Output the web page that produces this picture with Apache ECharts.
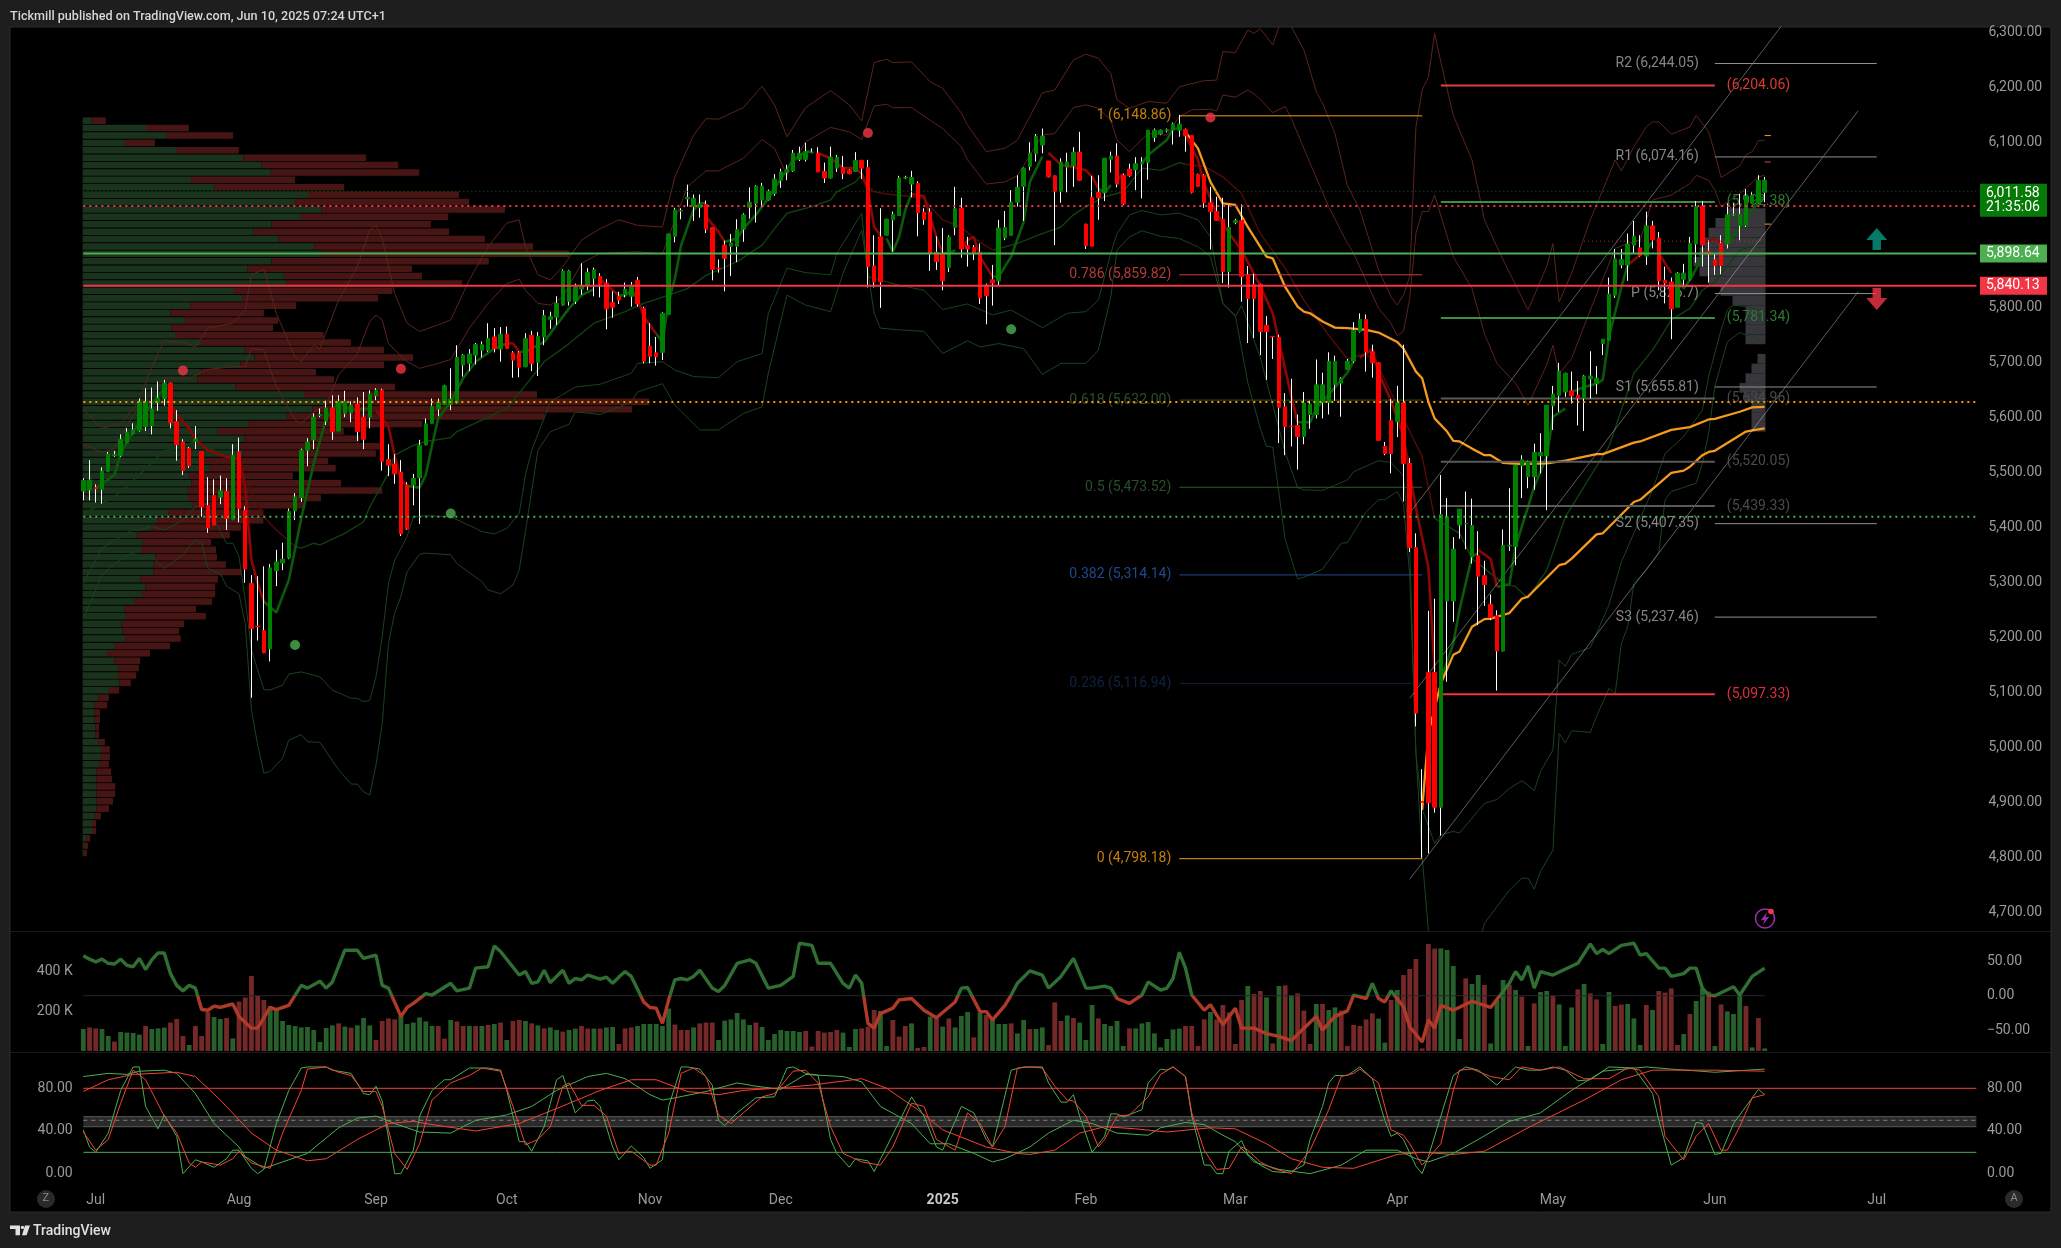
<!DOCTYPE html>
<html><head><meta charset="utf-8"><style>html,body{margin:0;padding:0;background:#1e1e1e}#c{width:2061px;height:1248px}</style>
<script src="https://cdn.jsdelivr.net/npm/echarts@6/dist/echarts.min.js"></script></head><body><div id="c"></div>
<script>
const LEAD=11,TOTAL=316,RIGHT=TOTAL-1-LEAD,READ_BIAS=1.8;
// daily [open, close, low, high]
const ohlc=[[5465,5484,5448,5488],[5467,5485,5448,5521],[5471,5469,5444,5477],[5468,5501,5442,5508],[5501,5532,5500,5536],[5529,5531,5527,5538],[5529,5559,5527,5568],[5553,5572,5552,5579],[5569,5576,5568,5588],[5575,5627,5573,5633],
[5582,5627,5574,5652],[5584,5614,5568,5653],[5626,5634,5611,5664],[5633,5661,5620,5667],[5661,5589,5579,5662],[5591,5549,5520,5612],[5554,5502,5494,5559],[5542,5511,5507,5545],[5555,5559,5541,5583],[5537,5436,5418,5537],
[5438,5398,5389,5490],[5457,5403,5403,5486],[5454,5465,5441,5493],[5464,5415,5394,5488],[5413,5530,5412,5550],[5536,5433,5408,5562],[5430,5323,5298,5437],[5297,5215,5089,5312],[5219,5218,5193,5310],[5211,5171,5170,5328],
[5178,5325,5155,5332],[5320,5336,5292,5358],[5334,5341,5321,5371],[5343,5428,5341,5433],[5429,5454,5412,5461],[5453,5539,5445,5542],[5539,5554,5510,5561],[5558,5599,5541,5606],[5602,5604,5599,5615],[5592,5616,5585,5629],
[5616,5573,5558,5639],[5574,5628,5574,5639],[5606,5628,5599,5647],[5607,5621,5590,5628],[5623,5573,5556,5635],[5599,5559,5541,5645],[5599,5641,5579,5648],[5638,5648,5630,5652],[5648,5519,5502,5651],[5522,5512,5492,5550],
[5514,5496,5478,5532],[5499,5387,5383,5521],[5476,5396,5394,5481],[5476,5488,5439,5496],[5489,5548,5405,5558],[5549,5587,5548,5597],
[5588,5619,5588,5633],[5614,5626,5601,5633],[5622,5656,5621,5658],[5622,5632,5612,5688],[5625,5708,5624,5730],[5694,5712,5673,5714],[5697,5714,5683,5723],[5712,5731,5695,5734],[5721,5731,5708,5737],[5721,5742,5718,5770],
[5745,5724,5717,5761],[5723,5750,5700,5763],[5750,5724,5723,5764],[5716,5703,5671,5719],[5716,5690,5672,5719],[5691,5742,5690,5752],[5748,5697,5683,5756],[5699,5746,5674,5754],[5745,5784,5730,5794],[5777,5782,5760,5791],
[5781,5806,5767,5819],[5803,5865,5802,5868],[5810,5865,5802,5867],[5810,5836,5805,5842],[5832,5839,5822,5879],[5840,5862,5830,5870],[5851,5867,5819,5871],[5855,5841,5817,5861],[5843,5796,5759,5850],[5808,5799,5780,5828],
[5819,5812,5805,5827],[5822,5832,5817,5844],[5819,5839,5800,5845],[5848,5805,5800,5854],[5797,5701,5697,5800],[5728,5710,5697,5770],[5716,5709,5693,5745],[5717,5788,5703,5790],[5786,5932,5785,5933],[5928,5976,5917,5980],
[5974,5975,5959,5979],[5996,5999,5982,6022],[5982,5997,5956,6004],[5980,5987,5962,6004],[5986,5941,5934,5993],[5944,5868,5848,5945],[5870,5869,5862,5886],[5912,5888,5828,5920],[5910,5916,5856,5932],[5910,5940,5881,5959],
[5941,5967,5918,5970],[5981,5990,5960,6017],[5988,6019,5953,6021],[5994,6019,5981,6025],[5994,6010,5993,6013],[6006,6032,6002,6041],
[6030,6045,6016,6051],[6044,6050,6030,6058],[6047,6079,6045,6085],[6068,6079,6065,6091],[6068,6082,6064,6098],[6080,6081,6079,6088],[6079,6045,6045,6090],[6046,6034,6025,6062],[6034,6072,6033,6091],[6052,6072,6045,6076],
[6053,6042,6032,6074],[6048,6042,6041,6050],[6046,6066,6045,6081],[6066,6052,6032,6067],[6053,5873,5835,6067],[5874,5845,5835,5930],[5927,5845,5798,5979],[5930,5959,5930,5960],[5958,5968,5900,5973],[5966,6034,5965,6038],
[6034,6035,6032,6038],[6023,6035,5999,6047],[6024,5971,5928,6028],[5972,5959,5949,5979],[5972,5896,5865,5979],[5899,5882,5867,5928],[5896,5847,5830,5943],[5871,5927,5863,5930],[5944,5978,5930,6018],[5979,5905,5889,5998],
[5911,5905,5873,5927],[5908,5899,5885,5912],[5899,5816,5805,5915],[5839,5820,5768,5842],[5849,5843,5802,5876],[5847,5943,5838,5958],[5925,5944,5921,5974],[5930,5990,5929,6012],[5990,6017,5982,6039],[6019,6052,5956,6053],
[6055,6079,6048,6099],[6078,6110,6064,6114],[6094,6110,6079,6124],[6065,6036,6035,6065],[6038,6010,5912,6039],[6010,6063,5989,6070],[6054,6063,6008,6080],[6056,6081,6018,6090],[6081,6030,6029,6118],[5950,5911,5905,5951],
[5999,5910,5910,6038],[6008,5998,5958,6039],[6007,6070,5992,6070],[6068,6074,6044,6082],[6074,6023,6017,6097],[6039,5987,5985,6042],
[6050,6038,6036,6060],[6049,6060,6012,6072],[6060,6063,5997,6072],[6062,6121,6031,6121],[6108,6121,6100,6124],[6114,6121,6112,6122],[6120,6122,6117,6124],[6121,6132,6095,6135],[6121,6132,6109,6148.86],[6122,6111,6082,6124],
[6111,6008,6006,6111],[6040,6019,6018,6042],[6039,5989,5980,6041],[5989,5973,5904,6018],[5973,5957,5956,6000],[5959,5864,5843,5998],[5864,5944,5835,5985],[5953,5957,5950,5960],[5957,5855,5809,5986],
[5858,5815,5734,5874],[5841,5815,5743,5860],[5841,5755,5712,5842],[5766,5755,5667,5783],[5746,5745,5705,5746],[5744,5617,5552,5749],[5618,5582,5530,5643],[5583,5582,5546,5669],[5584,5564,5504,5604],[5564,5625,5550,5645],
[5604,5623,5578,5629],[5604,5658,5597,5704],[5626,5658,5597,5680],[5626,5701,5604,5717],[5659,5701,5629,5711],[5661,5670,5600,5672],[5686,5701,5685,5705],[5701,5757,5698,5772],[5755,5777,5753,5788],[5777,5718,5682,5786],
[5718,5698,5671,5731],[5698,5557,5557,5699],[5546,5533,5530,5554],[5593,5533,5497,5632],[5591,5625,5563,5656],[5625,5515,5446,5731],[5515,5362,5354,5525],[5362,5061,5037,5388],[4900,4899,4798.18,4959],[5135,4898,4806,5247],
[5135,4890,4880,5269],[4890,5422,4838,5494],[5265,5418,5118,5452],[5265,5359,5227,5381],[5403,5432,5378,5432],[5405,5406,5359,5464],[5345,5402,5333,5451],[5347,5310,5221,5392],[5311,5295,5256,5338],[5259,5235,5230,5277],
[5238,5174,5102,5248],[5174,5366,5173,5395],[5365,5366,5356,5470],[5364,5512,5330,5513],[5511,5522,5452,5530],[5491,5518,5470,5520],[5491,5535,5467,5551],[5529,5535,5497,5570],[5529,5621,5430,5621],[5620,5641,5576,5656],
[5639,5683,5609,5698],[5645,5679,5636,5680],[5647,5638,5624,5682],[5639,5634,5584,5665],[5634,5674,5574,5676],[5669,5674,5633,5719],[5660,5670,5641,5692],[5733,5741,5712,5741],[5739,5823,5739,5853],[5821,5887,5816,5905],
[5876,5886,5870,5905],[5876,5914,5847,5933],[5912,5928,5896,5956],[5907,5893,5891,5930],[5892,5947,5876,5973],[5947,5922,5906,5956],[5925,5847,5830,5936],[5848,5843,5806,5873],[5845,5796,5741,5853],[5799,5861,5799,5863],
[5850,5861,5836,5878],[5850,5915,5848,5927],[5914,5982,5880,5992],[5983,5912,5873,5992],[5901,5896,5844,5921],[5885,5875,5858,5897],[5915,5875,5859,5930],[5914,5967,5906,5988],[5967,5968,5965,5988],[5948,5968,5921,6005],
[5948,6001,5945,6014],[5988,6003,5987,6008],[5989,6030,5988,6039],[6008,6030,5990,6036]];
const volumes=[110,118,113,110,75,47,95,92,90,82,125,110,113,117,142,160,75,30,125,75,195,170,160,165,63,247,267,375,275,255,225,208,150,130,125,118,120,105,45,115,128,138,122,117,128,165,128,55,150,163,158,175,135,142,168,148,125,125,62,155,148,125,125,125,125,130,135,142,55,150,155,150,138,128,113,118,105,97,105,112,125,112,112,112,118,120,35,113,118,125,135,135,135,125,212,132,105,105,118,138,142,142,55,152,158,190,158,130,142,120,55,85,105,100,100,95,100,22,100,92,95,105,92,20,110,113,122,205,200,25,155,72,125,138,15,20,172,163,122,163,118,175,195,68,192,180,163,135,135,138,88,155,110,110,118,30,243,150,178,165,142,55,230,163,135,125,150,25,113,113,138,145,88,18,60,108,112,125,125,25,158,195,158,230,193,35,255,325,285,300,268,38,325,328,280,288,202,35,235,235,205,218,202,25,130,125,158,188,162,42,255,305,380,410,460,13,535,512,513,505,425,60,363,335,380,330,38,255,355,330,305,272,25,238,295,300,275,233,25,218,308,335,288,258,35,295,225,232,235,163,30,230,205,300,292,313,30,85,185,250,310,297,25,233,198,185,275,225,18,165,13];
const volumeDirs="GRRGGRGGGGRGGGRRRGRRRGGRGRRRRRGGGGGGGGGGGRGRGGGRRRRGGGGGGRRGRRGRGRGRGRRGRGRGGRGGRRGRGGRRRGGGGGGRRRGRRRGGGGGGRGGGGGGGRRRRRRGGGRRRGGRRRGRRGRGRGGGRGRGGGRGGRGGRRRGRGGGRGGGGRGGGGGGGGRRRRGRRRRRGRRGRGRGRRRGRGGRRRRRRGGRGRRRRRRGGGGRGGRGGGRGRGRGGRGGGRGRRGGRRGGGRGRRRRGRGGRGRGGGRGRGRGG";
const priceTicks=[4700,4800,4900,5000,5100,5200,5300,5400,5500,5600,5700,5800,5900,6000,6100,6200,6300];
const monthTicks=[[2,'Jul'],[25,'Aug'],[47,'Sep'],[68,'Oct'],[91,'Nov'],[112,'Dec'],[138,'2025'],[161,'Feb'],[185,'Mar'],[211,'Apr'],[236,'May'],[262,'Jun'],[288,'Jul']];
// band vertices [bar, price]
const redBandOuter=[[0,5613],[3,5579],[6,5587],[9,5630],[11,5691],[13,5738],[16,5735],[18,5727],[20,5761],[24,5770],[26,5794],[27,5858],[29,5868],[31,5788],[34,5709],[35,5700],[37,5730],[38,5724],[41,5812],[44,5873],[46,5939],[47,5948],[48,5924],[50,5824],[52,5770],[54,5755],[57,5767],[59,5776],[62,5849],[65,5909],[68,5952],[70,5958],[71,5909],[73,5858],[75,5849],[77,5873],[80,5921],[83,5942],[86,5958],[89,5948],[93,5945],[95,6036],[98,6112],[100,6142],[102,6141],[106,6162],[109,6201],[111,6167],[113,6109],[116,6162],[120,6193],[123,6167],[125,6138],[127,6244],[129,6250],[130,6244],[133,6245],[136,6209],[138,6197],[141,6152],[142,6130],[145,6082],[148,6088],[150,6103],[154,6189],[156,6194],[159,6249],[161,6259],[163,6252],[165,6224],[166,6176],[168,6161],[171,6173],[174,6170],[176,6200],[180,6211],[182,6212],[183,6264],[185,6262],[187,6303],[188,6297],[189,6306],[191,6276],[192,6309],[193,6330],[194,6309],[196,6267],[198,6191],[199,6170],[201,6115],[203,6020],[205,5976],[208,5867],[210,5818],[211,5803],[212,5821],[213,5855],[214,6127],[215,6194],[216,6218],[217,6297],[218,6245],[220,6148],[223,6067],[225,5958],[228,5885],[232,5794],[235,5873],[236,5915],[237,5809],[239,5861],[242,5958],[246,6067],[247,6047],[249,6091],[251,6127],[252,6136],[253,6136],[255,6114],[256,6118],[258,6127],[259,6148],[261,6118],[262,6079],[263,6035],[266,6056],[267,6076],[268,6082],[269,6102],[270,6103]];
const redBandInner=[[0,5550],[3,5535],[5,5542],[8,5603],[13,5670],[17,5670],[20,5686],[24,5691],[26,5691],[27,5724],[29,5721],[31,5655],[34,5594],[35,5588],[37,5609],[39,5621],[41,5676],[44,5715],[46,5773],[47,5785],[48,5776],[49,5733],[52,5700],[54,5688],[57,5697],[59,5704],[62,5761],[65,5806],[68,5842],[70,5850],[71,5830],[73,5806],[75,5803],[77,5818],[80,5879],[83,5897],[89,5900],[93,5896],[95,5958],[97,6018],[100,6047],[102,6047],[106,6070],[109,6104],[111,6088],[113,6039],[116,6100],[120,6126],[123,6118],[125,6104],[127,6165],[129,6168],[130,6162],[133,6162],[136,6139],[138,6124],[141,6091],[142,6067],[145,6023],[148,6027],[150,6038],[154,6112],[156,6115],[159,6162],[161,6167],[163,6161],[165,6139],[166,6103],[168,6082],[171,6115],[174,6112],[176,6145],[178,6158],[181,6159],[182,6156],[183,6185],[185,6181],[187,6194],[188,6187],[189,6177],[191,6153],[193,6164],[194,6142],[197,6061],[200,5982],[203,5915],[204,5897],[208,5797],[210,5770],[211,5747],[212,5755],[213,5815],[214,5933],[215,5973],[216,5973],[217,6003],[220,5891],[223,5833],[225,5751],[227,5697],[230,5661],[232,5621],[235,5694],[236,5730],[237,5678],[239,5706],[242,5794],[246,5906],[248,5915],[250,5921],[252,5994],[255,6003],[258,6024],[259,6039],[261,6030],[262,6012],[263,5982],[266,6006],[269,6036],[270,6039]];
const greenBandUpper=[[0,5297],[3,5361],[6,5381],[8,5395],[9,5393],[11,5401],[13,5394],[16,5412],[18,5436],[20,5442],[22,5391],[23,5370],[24,5370],[25,5346],[26,5267],[27,5176],[29,5104],[30,5103],[32,5112],[33,5132],[35,5136],[38,5127],[40,5103],[43,5088],[44,5088],[45,5082],[46,5084],[47,5127],[48,5200],[49,5297],[50,5339],[52,5382],[53,5418],[55,5420],[59,5418],[63,5397],[64,5391],[66,5387],[68,5397],[70,5424],[71,5494],[72,5539],[75,5627],[79,5654],[83,5659],[88,5679],[89,5697],[93,5700],[95,5685],[98,5673],[102,5671],[105,5700],[109,5715],[110,5788],[113,5870],[116,5862],[120,5858],[121,5897],[125,5970],[126,5855],[131,5839],[135,5830],[138,5795],[142,5805],[146,5785],[149,5794],[154,5762],[158,5788],[161,5791],[163,5812],[165,5897],[166,5933],[168,5967],[170,5975],[173,5967],[176,5970],[179,5958],[181,5927],[183,5806],[185,5782],[186,5802],[189,5708],[193,5535],[195,5471],[196,5467],[199,5466],[203,5485],[204,5500],[208,5520],[210,5517],[212,5492],[213,5362],[214,4988],[215,4887],[217,4824],[218,4840],[220,4846],[221,4843],[225,4897],[227,4904],[229,4924],[231,4938],[232,4930],[233,4920],[234,4955],[236,4994],[237,5158],[238,5146],[239,5168],[242,5180],[245,5258],[247,5336],[252,5467],[254,5533],[257,5564],[260,5612],[261,5673],[263,5758],[264,5794],[265,5803],[267,5800],[269,5794],[270,5790]];
const greenBandLower=[[0,5233],[3,5312],[5,5333],[8,5353],[9,5342],[11,5347],[13,5324],[16,5349],[18,5377],[19,5370],[20,5324],[22,5315],[23,5292],[25,5278],[26,5224],[27,5067],[28,5003],[29,4952],[30,4955],[32,4979],[33,5012],[35,5022],[36,5009],[38,5008],[41,4958],[43,4932],[44,4932],[45,4918],[46,4912],[47,4967],[48,5042],[49,5188],[50,5243],[51,5273],[52,5318],[54,5350],[55,5352],[59,5349],[60,5333],[64,5300],[65,5285],[67,5278],[69,5294],[70,5321],[71,5391],[73,5539],[75,5573],[78,5586],[79,5609],[83,5604],[88,5627],[89,5645],[93,5660],[95,5621],[99,5576],[102,5576],[106,5606],[109,5618],[110,5679],[113,5821],[116,5803],[120,5791],[122,5861],[125,5939],[127,5788],[128,5761],[131,5758],[135,5755],[138,5715],[142,5738],[144,5727],[147,5733],[151,5724],[154,5677],[157,5697],[161,5697],[163,5721],[165,5818],[166,5903],[168,5927],[170,5938],[173,5928],[176,5924],[179,5909],[181,5891],[183,5806],[185,5784],[187,5662],[189,5579],[190,5546],[191,5545],[193,5377],[195,5305],[196,5308],[199,5323],[202,5370],[203,5371],[206,5427],[208,5449],[209,5449],[211,5464],[212,5442],[213,5312],[214,4988],[215,4800],[216,4665],[217,4550],[222,4550],[225,4679],[229,4739],[231,4761],[232,4761],[233,4741],[234,4773],[236,4812],[237,5024],[238,5007],[239,5029],[242,5026],[243,5055],[245,5106],[246,5097],[247,5188],[248,5218],[249,5297],[251,5321],[253,5352],[254,5449],[255,5464],[259,5479],[260,5515],[261,5570],[262,5655],[264,5736],[266,5753],[268,5745],[270,5733]];
// moving-average runs, split where the line changes colour
const fastUp=[[[2,5470],[5,5494],[6,5533],[8,5573],[11,5624],[13,5651]],[[29,5264],[31,5244],[33,5303],[35,5415],[37,5515],[39,5597],[41,5627],[43,5612],[46,5615]],[[52,5474],[54,5471],[55,5494],[56,5548],[57,5597],[59,5627],[61,5670],[63,5700],[66,5724],[68,5733]],[[70,5718],[71,5718],[74,5736],[76,5767],[78,5797],[80,5821],[82,5832]],[[86,5821],[87,5820],[88,5830],[89,5815]],[[92,5751],[93,5736],[94,5809],[95,5851],[96,5912],[98,5976],[99,5988],[100,5988]],[[103,5918],[105,5924],[106,5942],[108,5967],[110,5997],[111,6015],[114,6067],[116,6082],[117,6082]],[[129,5924],[130,5900],[131,5927],[132,5976],[133,6005]],[[138,5897],[139,5897],[140,5903]],[[146,5855],[147,5855],[149,5891],[151,5954],[152,6027],[154,6073]],[[163,6015],[164,6007],[165,6021]],[[170,6061],[171,6076],[174,6103],[175,6124],[176,6124]],[[195,5590],[197,5590],[198,5615],[200,5640],[203,5680],[204,5701]],[[218,5121],[220,5188],[221,5249],[223,5346],[224,5352]],[[227,5291],[229,5295],[230,5364],[232,5436],[233,5473],[235,5527],[236,5600],[238,5615]],[[239,5645],[241,5654],[243,5660],[244,5667],[245,5745],[247,5836],[248,5876]],[[251,5903],[252,5918]],[[256,5855],[257,5833],[258,5848],[260,5891]],[[264,5915],[266,5942],[268,5976],[270,6003]]];
const fastDown=[[[14,5621],[15,5603],[17,5579],[18,5558],[20,5539],[23,5527],[25,5524],[26,5473],[27,5339],[28,5297],[29,5264]],[[47,5612],[49,5582],[50,5530],[51,5485],[52,5474]],[[68,5734],[69,5733],[70,5718]],[[83,5851],[84,5839],[86,5821]],[[89,5815],[90,5782],[92,5751]],[[100,5964],[102,5936],[103,5918]],[[118,6079],[120,6070],[122,6052],[124,6052],[125,6042],[126,6012],[127,5945],[128,5930]],[[133,6005],[135,6001],[136,5964],[137,5927],[138,5897]],[[141,5906],[142,5921],[143,5927],[144,5891],[145,5873],[146,5855]],[[155,6080],[157,6058],[159,6054],[161,6048],[162,6036],[163,6015]],[[166,6030],[167,6042]],[[177,6112],[179,6067],[180,6024],[182,5970],[184,5933],[186,5903],[187,5881],[189,5838],[191,5788],[193,5687],[194,5636],[195,5590]],[[205,5708],[207,5723],[208,5680],[210,5629],[212,5564],[214,5434],[216,5326],[217,5139]],[[224,5358],[226,5341],[227,5291]],[[248,5876],[251,5903]],[[253,5897],[255,5861]],[[260,5918],[262,5922],[263,5918]]];
const midUp=[[[0,5423],[5,5455],[7,5473],[13,5538],[15,5542],[18,5555],[21,5539],[23,5527]],[[34,5364],[35,5361],[37,5370],[38,5367],[42,5388],[45,5409],[46,5436],[49,5497],[50,5530],[53,5548],[55,5555],[59,5562],[60,5573],[64,5594],[68,5615],[71,5657],[74,5700],[78,5733],[82,5770],[87,5791],[90,5806],[94,5821],[97,5833],[100,5857],[102,5867],[105,5882],[109,5912],[111,5942],[113,5970],[117,5982],[120,5994],[121,6009],[124,6027],[125,6040]],[[146,5903],[150,5915],[154,5933],[157,5945],[159,5967],[161,5982],[164,6000],[167,6009],[170,6052],[173,6048],[176,6062],[177,6059]],[[217,5415],[221,5388],[223,5342],[228,5297],[230,5291],[232,5270],[235,5321],[238,5418],[241,5473],[245,5546],[249,5679],[252,5721],[255,5776],[258,5797],[260,5830],[262,5845],[266,5903],[270,5918]]];
const midDown=[[[23,5527],[26,5485],[29,5418],[31,5394],[34,5364]],[[125,6040],[126,6018],[127,6009],[129,6005],[133,6000],[135,5997],[136,5982],[138,5958],[141,5945],[143,5925],[146,5903]],[[177,6059],[180,6055],[183,6036],[186,6006],[189,5933],[193,5870],[196,5812],[200,5748],[203,5705],[206,5715],[208,5690],[210,5644],[214,5550],[215,5528],[217,5415]]];
const orangeFast=[[177,6118],[179,6088],[181,6027],[183,5988],[185,5985],[187,5945],[190,5891],[191,5888],[193,5836],[195,5800],[196,5791],[197,5788],[199,5773],[201,5762],[203,5761],[206,5758],[208,5753],[211,5736],[212,5724],[214,5682],[215,5670],[216,5627],[217,5597],[219,5573],[220,5556],[221,5555],[223,5542],[225,5530],[226,5530],[228,5516],[231,5514],[235,5515],[238,5520],[243,5532],[244,5532],[249,5553],[250,5555],[255,5576],[258,5581],[261,5595],[262,5596],[266,5609],[268,5617],[270,5618]];
const orangeSlow=[[215,4885],[216,5024],[218,5115],[220,5167],[221,5173],[223,5218],[225,5232],[226,5233],[229,5243],[231,5269],[232,5273],[237,5330],[238,5333],[239,5342],[243,5386],[244,5388],[249,5445],[250,5449],[255,5498],[257,5502],[258,5509],[260,5530],[261,5536],[262,5538],[267,5573],[268,5575],[270,5579]];
const trendLines=[[[213,5425],[273,6315]],[[213,5088],[285,6156]],[[213,4759],[285,5827]]];
const oscillator=[[0,58],[1,53],[2,49],[3,53],[4,47],[5,46],[6,53],[7,44],[8,42],[9,54],[10,38],[11,52],[12,62],[13,62],[14,32],[15,15],[16,7],[17,15],[18,11],[19,-20],[20,-21],[21,-15],[22,-17],[24,-12],[25,-30],[27,-47],[28,-47],[30,-17],[31,-20],[33,-14],[35,15],[36,11],[38,21],[39,11],[40,20],[42,66],[44,66],[45,54],[47,59],[48,15],[49,11],[51,-30],[52,-17],[53,-11],[55,3],[56,1],[59,18],[60,7],[62,11],[63,40],[65,42],[66,72],[67,64],[70,30],[71,35],[72,18],[73,20],[74,37],[75,19],[77,37],[78,18],[79,25],[80,23],[81,30],[83,24],[84,27],[85,18],[86,27],[87,35],[88,28],[90,-9],[91,-17],[92,-18],[93,-40],[94,-6],[95,23],[96,25],[97,23],[98,28],[99,37],[101,11],[102,6],[103,15],[105,47],[107,52],[108,47],[110,11],[112,15],[114,28],[115,76],[117,73],[118,47],[120,47],[122,18],[123,11],[124,30],[125,18],[126,-40],[127,-47],[128,-26],[130,-18],[131,-6],[133,-4],[135,-21],[137,-32],[140,-9],[141,11],[142,12],[144,-23],[145,-23],[146,-35],[148,-14],[149,1],[150,18],[152,36],[154,30],[155,11],[157,28],[159,54],[161,11],[162,11],[164,14],[165,11],[166,-4],[168,-11],[170,1],[171,20],[173,8],[174,11],[175,25],[176,63],[177,40],[178,1],[180,-21],[181,-13],[182,-28],[183,-42],[185,-18],[186,-47],[188,-47],[190,-55],[192,-59],[194,-65],[196,-47],[198,-30],[199,-50],[201,-30],[203,-22],[204,1],[206,-4],[207,18],[208,-4],[209,-9],[210,7],[212,-16],[213,-45],[215,-67],[216,-35],[217,-47],[218,-14],[220,-21],[223,-8],[226,-17],[229,18],[230,35],[231,23],[232,43],[233,11],[234,35],[236,30],[240,47],[242,75],[243,61],[244,67],[245,61],[247,73],[249,76],[250,59],[251,61],[253,40],[254,40],[255,28],[257,32],[258,40],[259,40],[260,11],[261,1],[262,0],[265,13],[266,1],[268,28],[270,40]];
const stochFastK=[[0,41],[1,25],[2,20],[4,38],[6,78],[8,100],[9,100],[10,63],[12,42],[13,55],[15,35],[16,0],[18,13],[19,11],[21,6],[23,14],[24,22],[25,22],[27,5],[28,0],[29,4],[31,47],[33,78],[35,99],[36,100],[39,100],[40,97],[43,94],[45,75],[46,74],[47,82],[48,68],[50,0],[51,0],[53,22],[54,54],[56,78],[58,88],[59,88],[62,99],[65,99],[67,97],[68,78],[70,30],[71,30],[72,21],[74,44],[76,88],[77,92],[79,57],[81,68],[82,69],[83,63],[85,25],[86,13],[88,26],[90,15],[91,5],[93,13],[94,63],[96,100],[97,100],[99,98],[101,83],[102,50],[103,45],[105,57],[108,71],[111,72],[113,99],[114,100],[116,94],[118,92],[120,32],[121,19],[123,6],[124,14],[126,12],[127,2],[129,25],[133,72],[135,54],[137,25],[138,22],[141,63],[143,57],[145,32],[146,25],[149,97],[151,100],[154,100],[155,85],[157,67],[158,67],[159,74],[160,54],[162,20],[164,35],[165,56],[166,56],[167,53],[170,60],[171,85],[173,98],[174,97],[175,100],[177,91],[178,54],[180,8],[181,8],[182,0],[183,0],[184,21],[186,31],[187,18],[189,8],[191,2],[193,1],[194,2],[196,8],[197,32],[199,63],[200,85],[201,92],[203,92],[205,100],[207,89],[209,50],[210,35],[211,38],[212,32],[214,7],[215,0],[216,16],[218,54],[220,92],[222,100],[224,97],[227,83],[230,100],[232,97],[234,97],[236,100],[238,97],[240,87],[242,88],[245,100],[249,99],[252,75],[253,50],[255,8],[257,15],[259,48],[260,47],[262,18],[263,19],[265,47],[267,63],[269,79],[270,74]];
const stochFastD=[[0,39],[2,22],[4,32],[6,66],[8,97],[10,88],[13,54],[15,38],[17,10],[18,6],[19,11],[22,8],[24,14],[25,21],[27,10],[30,5],[32,38],[35,78],[36,98],[39,100],[41,95],[43,92],[45,77],[47,77],[48,63],[50,19],[52,4],[54,28],[56,69],[59,85],[62,92],[64,99],[67,96],[69,63],[71,27],[73,32],[75,44],[77,82],[78,85],[80,64],[82,64],[84,54],[86,19],[88,21],[91,8],[92,8],[94,38],[96,94],[98,99],[100,91],[102,55],[104,47],[106,57],[109,72],[111,75],[114,96],[116,97],[118,85],[120,44],[122,19],[125,11],[128,8],[130,25],[133,66],[135,63],[137,32],[140,22],[142,57],[144,47],[146,25],[148,44],[150,99],[152,100],[154,99],[156,82],[158,69],[159,68],[161,54],[163,25],[164,32],[166,54],[168,55],[171,72],[173,93],[175,100],[177,91],[178,57],[180,22],[182,4],[184,5],[186,25],[187,22],[189,11],[191,5],[194,0],[195,7],[197,22],[200,60],[202,91],[204,94],[205,98],[208,85],[210,41],[212,36],[213,28],[215,8],[218,28],[220,78],[221,97],[223,98],[226,91],[229,88],[231,100],[234,97],[237,100],[241,89],[245,89],[248,99],[250,97],[253,72],[254,35],[257,13],[259,35],[261,47],[263,22],[264,22],[266,44],[268,71],[270,74]];
const stochSlowK=[[0,91],[4,94],[7,93],[9,96],[13,97],[15,94],[18,75],[21,47],[25,25],[26,16],[29,5],[33,13],[36,19],[41,43],[44,52],[47,54],[50,47],[54,39],[59,38],[63,50],[68,55],[72,63],[76,78],[81,91],[84,94],[87,89],[91,74],[93,69],[95,71],[100,77],[105,85],[108,82],[112,79],[116,93],[122,91],[125,86],[128,63],[133,47],[136,28],[139,28],[143,19],[146,11],[148,14],[152,25],[155,38],[159,50],[162,47],[166,38],[171,36],[173,43],[177,48],[180,46],[183,36],[185,30],[188,11],[192,4],[197,0],[202,8],[206,22],[211,22],[214,14],[216,11],[220,19],[224,32],[229,49],[234,57],[239,78],[244,96],[251,100],[255,98],[262,95],[270,98]];
const stochSlowD=[[0,77],[4,88],[8,93],[15,95],[18,91],[22,69],[27,38],[31,22],[36,12],[39,14],[44,32],[49,47],[53,49],[56,46],[63,40],[70,47],[76,61],[83,78],[88,88],[92,88],[97,77],[102,74],[106,78],[111,80],[117,83],[125,89],[129,80],[134,60],[138,41],[145,25],[150,19],[152,18],[156,22],[160,38],[164,44],[169,42],[174,39],[181,43],[185,42],[190,28],[194,14],[199,6],[204,5],[211,18],[215,20],[220,18],[225,21],[232,43],[241,69],[247,88],[252,97],[262,97],[270,96]];
const profileBuy=[20,142,187,95,211,360,401,421,243,295,505,476,535,489,423,383,439,519,535,423,369,451,457,337,357,241,197,229,199,207,265,363,385,353,266,257,342,496,545,515,457,371,303,362,352,360,274,285,238,244,236,236,247,192,167,155,123,135,131,163,159,159,129,141,133,115,93,97,87,89,95,73,55,71,79,79,83,59,35,27,27,27,29,29,36,41,41,37,31,31,31,31,31,31,27,21,21,9,3,3];
const profileSell=[32,96,150,67,139,275,306,333,233,291,338,390,411,330,357,438,462,490,555,487,369,309,393,357,305,237,209,209,228,333,336,312,355,322,257,306,358,522,724,716,578,390,282,258,314,297,276,282,233,335,435,298,248,213,238,200,207,153,168,138,162,197,174,156,164,175,161,179,140,127,125,123,96,58,47,41,25,23,24,28,12,12,8,8,14,20,20,22,33,35,42,42,37,28,14,9,9,8,9,7];
const sessionProfile=[38,50,57,61,66,72,66,57,45,33,20,20,20,20,0,8,14,20,26,21,14,14,14];
const fibLevels=[['1',6148.86,'#f59a1e','#c77f0a'],['0.786',5859.82,'#c8403c','#b03a38'],['0.618',5632,'#2a5a2a','#2a4f2a'],['0.5',5473.52,'#2b5a2b','#2b4d2b'],['0.382',5314.14,'#1e4a8c','#1e4a8c'],['0.236',5116.94,'#0f2038','#10233f'],['0',4798.18,'#f59a1e','#c77f0a']];
const pivotLevels=[['R2',6244.05,'R2 (6,244.05)'],['R1',6074.16,'R1 (6,074.16)'],['P',5825.7,'P (5,825.7)'],['S1',5655.81,'S1 (5,655.81)'],['S2',5407.35,'S2 (5,407.35)'],['S3',5237.46,'S3 (5,237.46)']];
const zoneLevels=[[6204.06,'(6,204.06)','#dd4238','#d93a32'],[5992.38,'(5,992.38)','#3f8f43','#2f7a33'],[5781.34,'(5,781.34)','#3f8f43','#2f7a33'],[5634.96,'(5,634.96)','#5a5a5a','#4a4a4a'],[5520.05,'(5,520.05)','#5a5a5a','#4a4a4a'],[5439.33,'(5,439.33)','#5a5a5a','#4a4a4a'],[5097.33,'(5,097.33)','#f23645','#d92f3e']];
const redDots=[[16,5684],[51,5687],[126,6116],[181,6144]];
const greenDots=[[34,5185],[59,5424],[149,5759]];

const FONT='Roboto, sans-serif';
const AX='#9a9a9a';
const fmt=v=>Number(v).toLocaleString('en-US',{minimumFractionDigits:2,maximumFractionDigits:2});
const shift=pts=>pts.map(p=>[p[0]+LEAD,p[1]]);
const priced=pts=>pts.map(p=>[p[0]+LEAD,p[1]+READ_BIAS]);
const runs=list=>{const out=[];list.forEach(seg=>{priced(seg).forEach(p=>out.push(p));out.push([seg[seg.length-1][0]+LEAD,null]);});return out;};
const categories=Array.from({length:TOTAL},()=> '');
monthTicks.forEach(([i,t])=>{categories[i+LEAD]=t;});
const line=(name,data,color,width,extra)=>Object.assign({type:'line',name,data,showSymbol:false,symbol:'none',silent:true,z:2,lineStyle:{color,width},xAxisIndex:0,yAxisIndex:0},extra||{});
const level=(value,from,to,color,width,dash,lab,z)=>{
  const pts=[[from+LEAD,value],[to+LEAD,value]];
  const data=pts.map(p=>({value:p}));
  if(lab){data[lab.end?1:0].label=Object.assign({show:true,position:lab.end?'right':'left',fontFamily:FONT,fontSize:14},lab.style);}
  return {type:'line',data,symbol:'circle',symbolSize:0,showSymbol:true,showAllSymbol:true,silent:true,z:z||2,lineStyle:{color,width,type:dash||'solid'},itemStyle:{color:'transparent'},xAxisIndex:0,yAxisIndex:0};
};
const series=[];
// volume profiles
series.push({type:'bar',data:profileBuy,stack:'p',xAxisIndex:3,yAxisIndex:5,barCategoryGap:'12%',itemStyle:{color:'#1a331d'},silent:true,z:1});
series.push({type:'bar',data:profileSell,stack:'p',xAxisIndex:3,yAxisIndex:5,barCategoryGap:'12%',itemStyle:{color:'#471614'},silent:true,z:1});
series.push({type:'bar',data:sessionProfile,xAxisIndex:4,yAxisIndex:6,barCategoryGap:'0%',itemStyle:{color:'#36363b'},silent:true,z:1});
// bands
series.push(line('redBandOuter',priced(redBandOuter),'#5c231d',1));
series.push(line('redBandInner',priced(redBandInner),'#5c231d',1));
series.push(line('greenBandUpper',priced(greenBandUpper),'#1c421e',1));
series.push(line('greenBandLower',priced(greenBandLower),'#1c421e',1));
series.push(line('midUp',runs(midUp),'#123f12',1.4));
series.push(line('midDown',runs(midDown),'#540b0b',1.4));
series.push(line('fastUp',runs(fastUp),'#0b5a0b',2.6));
series.push(line('fastDown',runs(fastDown),'#8b0606',2.6));
series.push(line('orangeFast',priced(orangeFast),'#f59a1e',2.3));
series.push(line('orangeSlow',priced(orangeSlow),'#f59a1e',2.3));
trendLines.forEach(t=>series.push(line('trend',priced(t),'rgba(255,255,255,0.36)',1,{z:2})));
// fib, pivot, zone levels
fibLevels.forEach(([k,v,c,tc])=>series.push(level(v,176,215,c,1,'solid',{end:false,style:{distance:8,color:tc,formatter:k+' ('+fmt(v)+')'}})));
pivotLevels.forEach(([k,v,t])=>series.push(level(v,262,288,'#8f8f8f',1,'solid',{end:false,style:{distance:16,color:'#858585',formatter:t}})));
zoneLevels.forEach(([v,t,c,tc])=>series.push(level(v,218,262,c,2,'solid',{end:true,style:{distance:12,color:tc,formatter:t}})));
// candles: wick layer + body layer
const candleEncode={x:0,y:[1,2,3,4]};
const B=READ_BIAS;
series.push({type:'candlestick',encode:candleEncode,data:ohlc.map((r,i)=>[i+LEAD,r[0]+B,r[1]+B,r[2]+B,r[3]+B]),barWidth:1,itemStyle:{color:'#ffffff',color0:'#ffffff',borderColor:'#ffffff',borderColor0:'#ffffff',borderWidth:1},silent:true,z:3,xAxisIndex:0,yAxisIndex:0});
series.push({type:'candlestick',encode:candleEncode,data:ohlc.map((r,i)=>[i+LEAD,r[0]+B,r[1]+B,Math.min(r[0],r[1])+B,Math.max(r[0],r[1])+B]),barWidth:4,itemStyle:{color:'#008000',color0:'#ff0000',borderColor:'#008000',borderColor0:'#ff0000',borderWidth:1},silent:true,z:3,xAxisIndex:0,yAxisIndex:0});
// dotted and solid horizontals
series.push(level(6011.58,0,RIGHT,'#0c6a0c',1,[1,3],{end:true,style:{distance:3.6,color:'#fff',backgroundColor:'#067a06',padding:[2,6,3,6],width:55,lineHeight:14,offset:[0,9],formatter:'6,011.58\n21:35:06'}},4));
series.push(level(5985,0,RIGHT,'#f23645',2,[2,4],null,4));
series.push(level(5628.5,0,RIGHT,'#ff9800',2,[2,4],null,4));
series.push(level(5420,0,RIGHT,'#4caf50',2,[2,4],null,4));
series.push(level(5921,241,270,'#a8323c',1,[1,3],null,4));
series.push(level(5898.64,0,RIGHT,'#4caf50',2,'solid',{end:true,style:{distance:3.6,color:'#fff',backgroundColor:'#4caf50',padding:[2,6,2,6],width:55,lineHeight:14,formatter:'5,898.64'}},4));
series.push(level(5840.13,0,RIGHT,'#f23645',2,'solid',{end:true,style:{distance:3.6,color:'#fff',backgroundColor:'#f23645',padding:[2,6,2,6],width:55,lineHeight:14,formatter:'5,840.13'}},4));
series.push(level(6113,270,271,'#f59a1e',1,'solid'));
series.push(level(6065,270,271,'#6e1f1f',2,'solid'));
series.push(level(5952,270,271,'#f59a1e',1,'solid'));
// dots and arrows
series.push({type:'scatter',data:priced(redDots),symbolSize:10,itemStyle:{color:'#f23645'},silent:true,z:5});
series.push({type:'scatter',data:priced(greenDots),symbolSize:10,itemStyle:{color:'#4caf50'},silent:true,z:5});
const UP='path://M10 0 L20 12 L14 12 L14 22 L6 22 L6 12 L0 12 Z',DOWN='path://M6 0 L14 0 L14 10 L20 10 L10 22 L0 10 L6 10 Z';
series.push({type:'scatter',data:[[288+LEAD,5925]],symbol:UP,symbolSize:[21,22],itemStyle:{color:'#089981'},silent:true,z:5});
series.push({type:'scatter',data:[[288+LEAD,5816]],symbol:DOWN,symbolSize:[21,22],itemStyle:{color:'#f23645'},silent:true,z:5});
// volume pane
series.push({type:'bar',data:volumes.map((v,i)=>({value:[i+LEAD,v],itemStyle:{color:volumeDirs[i]==='G'?'#27602a':'#752828'}})),barWidth:4.8,xAxisIndex:1,yAxisIndex:1,silent:true,z:2});
series.push({type:'line',data:[[LEAD,0],[270+LEAD,0]],symbol:'none',lineStyle:{color:'#26262c',width:1},xAxisIndex:1,yAxisIndex:2,silent:true,z:2});
const OSC_MAX=93.8,OSC_MIN=-80.1,zeroAt=OSC_MAX/(OSC_MAX-OSC_MIN);
series.push({type:'line',data:shift(oscillator),symbol:'none',showSymbol:false,lineStyle:{width:3.4,color:{type:'linear',x:0,y:931,x2:0,y2:1051,global:true,colorStops:[{offset:0,color:'#2f6f31'},{offset:zeroAt,color:'#2f6f31'},{offset:zeroAt,color:'#b03a2a'},{offset:1,color:'#b03a2a'}]}},xAxisIndex:1,yAxisIndex:2,silent:true,z:3});
// stochastic pane
const st=(d,c)=>({type:'line',data:shift(d),symbol:'none',showSymbol:false,lineStyle:{color:c,width:1},xAxisIndex:2,yAxisIndex:3,silent:true,z:3});
series.push({type:'line',data:[[LEAD,50],[TOTAL-1,50]],symbol:'none',lineStyle:{color:'#808080',width:1,type:[4,4]},xAxisIndex:2,yAxisIndex:3,silent:true,z:2,
 markArea:{silent:true,itemStyle:{color:'rgba(110,110,110,0.38)'},data:[[{coord:[LEAD,53.4]},{coord:[TOTAL-1,44]}]]}});
series.push({type:'line',data:[[LEAD,53.4],[TOTAL-1,53.4]],symbol:'none',lineStyle:{color:'#5a5a5a',width:1},xAxisIndex:2,yAxisIndex:3,silent:true,z:2});
series.push({type:'line',data:[[LEAD,44],[TOTAL-1,44]],symbol:'none',lineStyle:{color:'#5a5a5a',width:1},xAxisIndex:2,yAxisIndex:3,silent:true,z:2});
series.push({type:'line',data:[[LEAD,80],[TOTAL-1,80]],symbol:'none',lineStyle:{color:'#f44336',width:1},xAxisIndex:2,yAxisIndex:3,silent:true,z:2});
series.push({type:'line',data:[[LEAD,20],[TOTAL-1,20]],symbol:'none',lineStyle:{color:'#4caf50',width:1},xAxisIndex:2,yAxisIndex:3,silent:true,z:2});
series.push(st(stochSlowK,'#4caf50'),st(stochSlowD,'#f44336'),st(stochFastK,'#4caf50'),st(stochFastD,'#f44336'));

const gl=11.7,gw=1967.8;
const hiddenCat=(g)=>({type:'category',gridIndex:g,data:categories,axisLine:{show:false},axisTick:{show:false},axisLabel:{show:false},splitLine:{show:false}});
const hiddenVal=(g,min,max,inv)=>({type:'value',gridIndex:g,min,max,inverse:!!inv,axisLine:{show:false},axisTick:{show:false},axisLabel:{show:false},splitLine:{show:false}});
const valAxis=(g,min,max,pos,vals,formatter,off,margin)=>({type:'value',gridIndex:g,min,max,position:pos,offset:off||0,axisLine:{show:false},axisTick:{show:false},splitLine:{show:false},axisLabel:{show:true,customValues:vals,formatter,color:AX,fontFamily:FONT,fontSize:14,margin:margin}});
const option={animation:false,backgroundColor:'#1e1e1e',
 grid:[{left:gl,top:27,width:gw,height:904},{left:gl,top:931,width:gw,height:120},{left:gl,top:1052,width:gw,height:135},{left:82.6,top:117,width:1000,height:739.7},{left:1665.5,top:208.3,width:100,height:223.3}],
 xAxis:[hiddenCat(0),hiddenCat(1),{type:'category',gridIndex:2,data:categories,axisLine:{show:false},axisTick:{show:false},splitLine:{show:false},axisLabel:{show:true,interval:0,hideOverlap:false,color:AX,fontFamily:FONT,fontSize:14,margin:6,formatter:v=>v==='2025'?'{b|2025}':v,rich:{b:{fontWeight:'bold',color:'#c8c8c8',fontFamily:FONT,fontSize:14}}}},hiddenVal(3,0,2240),hiddenVal(4,0,100,true)],
 yAxis:[valAxis(0,4666.7,6310.4,'right',priceTicks,fmt,0,9),
  valAxis(1,0,600,'left',[200,400],v=>v+' K',-65,4),
  valAxis(1,OSC_MIN,OSC_MAX,'right',[-50,0,50],v=>(v<0?'\u2212':'')+Math.abs(v).toFixed(2),0,7.5),
  valAxis(2,-12.5,114,'right',[0,40,80],v=>v.toFixed(2),0,7.5),
  valAxis(2,-12.5,114,'left',[0,40,80],v=>v.toFixed(2),-65,4),
  {type:'category',gridIndex:3,inverse:true,data:profileBuy.map((_,i)=>String(i)),axisLine:{show:false},axisTick:{show:false},axisLabel:{show:false}},
  {type:'category',gridIndex:4,inverse:true,data:sessionProfile.map((_,i)=>String(i)),axisLine:{show:false},axisTick:{show:false},axisLabel:{show:false}}],
 graphic:[
  {type:'rect',z:-10,shape:{x:10,y:27,width:2041,height:1185},style:{fill:'#000',stroke:'#2b2b2b',lineWidth:1},silent:true},
  {type:'rect',z:-9,shape:{x:10,y:931,width:2041,height:0.5},style:{fill:'#34343a'},silent:true},
  {type:'rect',z:-9,shape:{x:10,y:1052,width:2041,height:0.5},style:{fill:'#34343a'},silent:true},
  {type:'text',z:10,x:10,y:10,style:{text:'Tickmill published on TradingView.com, Jun 10, 2025 07:24 UTC+1',fill:'#d6d6d6',font:'500 12.6px '+FONT}},
  {type:'text',z:10,x:33,y:1224.5,style:{text:'TradingView',fill:'#e0e0e0',font:'500 14px '+FONT}},
  {type:'polygon',z:10,shape:{points:[[10,1225.5],[20,1225.5],[20,1235.2],[15.5,1235.2],[15.5,1229],[10,1229]]},style:{fill:'#e0e0e0'}},
  {type:'polygon',z:10,shape:{points:[[25,1225.5],[30,1225.5],[26.5,1235.2],[22,1235.2]]},style:{fill:'#e0e0e0'}},
  {type:'circle',z:10,shape:{cx:22.5,cy:1227.4,r:1.7},style:{fill:'#e0e0e0'}},
  {type:'circle',z:10,shape:{cx:46,cy:1199,r:9},style:{fill:'#2a2a2a'}},
  {type:'text',z:11,x:42.5,y:1193,style:{text:'Z',fill:'#8a8a8a',font:'11px '+FONT}},
  {type:'circle',z:10,shape:{cx:2014,cy:1199,r:9},style:{fill:'#2a2a2a'}},
  {type:'text',z:11,x:2010.5,y:1193,style:{text:'A',fill:'#8a8a8a',font:'11px '+FONT}},
  {type:'circle',z:10,shape:{cx:1765,cy:918.5,r:9.5},style:{fill:'none',stroke:'#9c2bb0',lineWidth:1.6}},
  {type:'polygon',z:10,shape:{points:[[1767,912],[1761,920],[1764.5,920],[1763,925],[1769,917],[1765.5,917]]},style:{fill:'#9c2bb0'}},
  {type:'circle',z:11,shape:{cx:1771,cy:911.5,r:2.8},style:{fill:'#f23645'}}
 ],
 series};
const chart=echarts.init(document.getElementById('c'),null,{renderer:'canvas',width:2061,height:1248});
chart.setOption(option);
</script></body></html>
